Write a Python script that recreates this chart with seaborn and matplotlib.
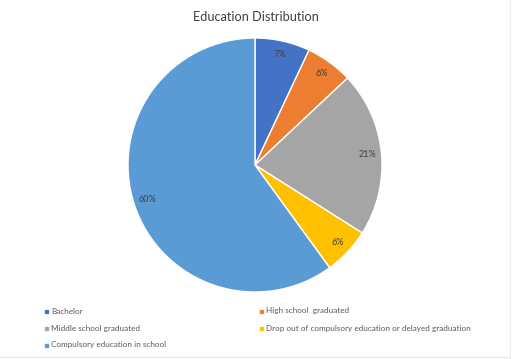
import matplotlib
matplotlib.use("Agg")
import matplotlib.pyplot as plt
import seaborn as sns
from matplotlib.lines import Line2D

sns.set_theme(style="white")
plt.rcParams['font.family'] = ['Lato', 'DejaVu Sans']

categories = ["Bachelor", "High school  graduated", "Middle school graduated",
              "Drop out of compulsory education or delayed graduation",
              "Compulsory education in school"]
values = [7, 6, 21, 6, 60]
colors = ["#4472C4", "#ED7D31", "#A5A5A5", "#FFC000", "#5B9BD5"]

fig = plt.figure(figsize=(5.12, 3.59), dpi=100)
W, H = 512, 359
cx, cy, r = 255, 165, 127
ax = fig.add_axes([(cx - r) / W, 1 - (cy + r) / H, 2 * r / W, 2 * r / H])
wedges, texts = ax.pie(values, colors=colors, startangle=90, counterclock=False,
                       labels=[f"{v}%" for v in values], labeldistance=0.89,
                       wedgeprops=dict(edgecolor="white", linewidth=1.0),
                       textprops=dict(fontsize=6.5, color="#404040"))
for t in texts:
    t.set_horizontalalignment("center")
    t.set_verticalalignment("center")
ax.set_xlim(-1, 1)
ax.set_ylim(-1, 1)
ax.set_aspect("equal")
ax.axis("off")

fig.text(256 / W, 1 - 17 / H, "Education Distribution", ha="center", va="center",
         fontsize=9.2, color="#404040")

# legend as two columns, row-major order
pos = [(46, 311), (261, 311), (46, 328), (261, 328), (46, 345)]
for (x, y), c, lab in zip(pos, colors, categories):
    fig.patches.append(plt.Rectangle(((x - 1.5) / W, 1 - (y + 1.5) / H), 3 / W, 3 / H,
                                     transform=fig.transFigure, color=c))
    fig.text((x + 5) / W, 1 - y / H, lab, ha="left", va="center",
             fontsize=5.9, color="#595959")

# faint chart-area border
fig.add_artist(Line2D([0, 510 / W], [1 - 357 / H] * 2, transform=fig.transFigure,
                      color="#e6e6e6", lw=0.8))
fig.add_artist(Line2D([510 / W] * 2, [0, 1], transform=fig.transFigure,
                      color="#eeeeee", lw=0.8))

fig.savefig("out.png", dpi=100, facecolor="white")
